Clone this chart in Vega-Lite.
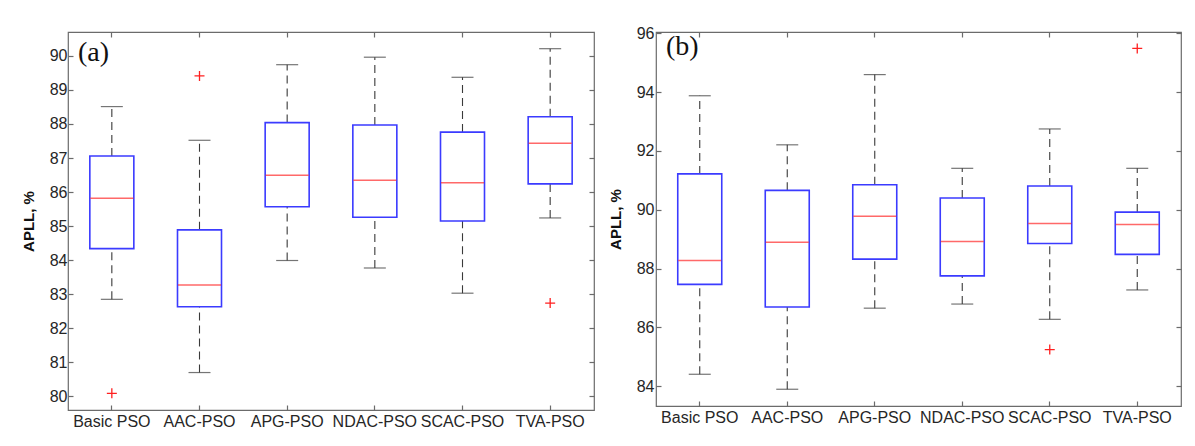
{
  "$schema": "https://vega.github.io/schema/vega-lite/v6.json",
  "background": "white",
  "padding": {"left": 20, "top": 24, "right": 5, "bottom": 5},
  "spacing": 11,
  "config": {
    "view": {"stroke": "#6b6b6b", "strokeWidth": 1.2},
    "axis": {
      "labelFont": "Liberation Sans", "labelFontSize": 16, "labelColor": "#262626",
      "titleFont": "Liberation Sans", "titleFontSize": 15, "titleColor": "#111111", "titleFontWeight": "bold",
      "domain": false, "grid": false, "tickColor": "#6b6b6b", "tickWidth": 1.2
    },
    "title": {"font": "Liberation Serif", "fontSize": 28, "fontWeight": "normal", "color": "#111111"}
  },
  "datasets": {
    "stats": [
      {"panel": "a", "method": "Basic PSO", "lower": 82.85, "q1": 84.34, "median": 85.82, "q3": 87.06, "upper": 88.51},
      {"panel": "a", "method": "AAC-PSO", "lower": 80.70, "q1": 82.63, "median": 83.27, "q3": 84.89, "upper": 87.52},
      {"panel": "a", "method": "APG-PSO", "lower": 83.99, "q1": 85.57, "median": 86.49, "q3": 88.04, "upper": 89.74},
      {"panel": "a", "method": "NDAC-PSO", "lower": 83.77, "q1": 85.26, "median": 86.35, "q3": 87.97, "upper": 89.96},
      {"panel": "a", "method": "SCAC-PSO", "lower": 83.03, "q1": 85.15, "median": 86.27, "q3": 87.76, "upper": 89.37},
      {"panel": "a", "method": "TVA-PSO", "lower": 85.24, "q1": 86.24, "median": 87.43, "q3": 88.21, "upper": 90.21},
      {"panel": "b", "method": "Basic PSO", "lower": 84.40, "q1": 87.46, "median": 88.27, "q3": 91.22, "upper": 93.88},
      {"panel": "b", "method": "AAC-PSO", "lower": 83.89, "q1": 86.69, "median": 88.89, "q3": 90.66, "upper": 92.21},
      {"panel": "b", "method": "APG-PSO", "lower": 86.65, "q1": 88.32, "median": 89.78, "q3": 90.85, "upper": 94.60},
      {"panel": "b", "method": "NDAC-PSO", "lower": 86.79, "q1": 87.75, "median": 88.92, "q3": 90.40, "upper": 91.41},
      {"panel": "b", "method": "SCAC-PSO", "lower": 86.27, "q1": 88.85, "median": 89.53, "q3": 90.81, "upper": 92.75},
      {"panel": "b", "method": "TVA-PSO", "lower": 87.27, "q1": 88.48, "median": 89.50, "q3": 89.92, "upper": 91.41}
    ],
    "outliers": [
      {"panel": "a", "method": "Basic PSO", "value": 80.09},
      {"panel": "a", "method": "AAC-PSO", "value": 89.41},
      {"panel": "a", "method": "TVA-PSO", "value": 82.74},
      {"panel": "b", "method": "SCAC-PSO", "value": 85.24},
      {"panel": "b", "method": "TVA-PSO", "value": 95.49}
    ]
  },
  "hconcat": [
    {
      "width": 526, "height": 378,
      "title": {"text": "(a)", "anchor": "start", "frame": "group", "offset": -36, "dx": 10},
      "data": {"name": "stats"},
      "transform": [{"filter": "datum.panel === 'a'"}],
      "resolve": {"axis": {"x": "independent", "y": "independent"}},
      "layer": [
        {
          "mark": {"type": "rule", "color": "#3a3a3a", "strokeDash": [8, 5], "strokeWidth": 1.1},
          "encoding": {
            "x": {"field": "method", "type": "nominal", "sort": ["Basic PSO", "AAC-PSO", "APG-PSO", "NDAC-PSO", "SCAC-PSO", "TVA-PSO"],
                  "scale": {"type": "band", "paddingInner": 0, "paddingOuter": 0},
                  "axis": {"title": null, "labelAngle": 0, "tickSize": -5, "labelPadding": 8, "orient": "bottom"}},
            "y": {"field": "lower", "type": "quantitative", "scale": {"domain": [79.6, 90.7], "nice": false, "zero": false},
                  "axis": {"title": "APLL, %", "values": [80, 81, 82, 83, 84, 85, 86, 87, 88, 89, 90], "tickSize": -5, "labelPadding": 6, "titlePadding": 13, "orient": "left"}},
            "y2": {"field": "q1"}
          }
        },
        {
          "mark": {"type": "rule", "color": "#3a3a3a", "strokeDash": [8, 5], "strokeWidth": 1.1},
          "encoding": {
            "x": {"field": "method", "type": "nominal", "sort": ["Basic PSO", "AAC-PSO", "APG-PSO", "NDAC-PSO", "SCAC-PSO", "TVA-PSO"],
                  "axis": {"title": null, "labels": false, "tickSize": -5, "orient": "top"}},
            "y": {"field": "q3", "type": "quantitative",
                  "axis": {"title": null, "labels": false, "values": [80, 81, 82, 83, 84, 85, 86, 87, 88, 89, 90], "tickSize": -5, "orient": "right"}},
            "y2": {"field": "upper"}
          }
        },
        {
          "mark": {"type": "tick", "color": "#3a3a3a", "size": 22, "thickness": 1.2},
          "encoding": {
            "x": {"field": "method", "type": "nominal", "sort": ["Basic PSO", "AAC-PSO", "APG-PSO", "NDAC-PSO", "SCAC-PSO", "TVA-PSO"], "axis": null},
            "y": {"field": "lower", "type": "quantitative", "axis": null}
          }
        },
        {
          "mark": {"type": "tick", "color": "#3a3a3a", "size": 22, "thickness": 1.2},
          "encoding": {
            "x": {"field": "method", "type": "nominal", "sort": ["Basic PSO", "AAC-PSO", "APG-PSO", "NDAC-PSO", "SCAC-PSO", "TVA-PSO"], "axis": null},
            "y": {"field": "upper", "type": "quantitative", "axis": null}
          }
        },
        {
          "mark": {"type": "bar", "size": 44, "fill": "white", "stroke": "#3b3bff", "strokeWidth": 1.6},
          "encoding": {
            "x": {"field": "method", "type": "nominal", "sort": ["Basic PSO", "AAC-PSO", "APG-PSO", "NDAC-PSO", "SCAC-PSO", "TVA-PSO"], "axis": null},
            "y": {"field": "q1", "type": "quantitative", "axis": null},
            "y2": {"field": "q3"}
          }
        },
        {
          "mark": {"type": "tick", "color": "#ff2a2a", "size": 43, "thickness": 1.5},
          "encoding": {
            "x": {"field": "method", "type": "nominal", "sort": ["Basic PSO", "AAC-PSO", "APG-PSO", "NDAC-PSO", "SCAC-PSO", "TVA-PSO"], "axis": null},
            "y": {"field": "median", "type": "quantitative", "axis": null}
          }
        },
        {
          "data": {"name": "outliers"},
          "transform": [{"filter": "datum.panel === 'a'"}],
          "mark": {"type": "point", "shape": "M-1,0L1,0M0,-1L0,1", "size": 100, "filled": false, "stroke": "#ff2020", "strokeWidth": 1.3, "opacity": 1},
          "encoding": {
            "x": {"field": "method", "type": "nominal", "sort": ["Basic PSO", "AAC-PSO", "APG-PSO", "NDAC-PSO", "SCAC-PSO", "TVA-PSO"], "axis": null},
            "y": {"field": "value", "type": "quantitative", "axis": null}
          }
        }
      ]
    },
    {
      "width": 525, "height": 374,
      "title": {"text": "(b)", "anchor": "start", "frame": "group", "offset": -36, "dx": 10},
      "data": {"name": "stats"},
      "transform": [{"filter": "datum.panel === 'b'"}],
      "resolve": {"axis": {"x": "independent", "y": "independent"}},
      "layer": [
        {
          "mark": {"type": "rule", "color": "#3a3a3a", "strokeDash": [8, 5], "strokeWidth": 1.1},
          "encoding": {
            "x": {"field": "method", "type": "nominal", "sort": ["Basic PSO", "AAC-PSO", "APG-PSO", "NDAC-PSO", "SCAC-PSO", "TVA-PSO"],
                  "scale": {"type": "band", "paddingInner": 0, "paddingOuter": 0},
                  "axis": {"title": null, "labelAngle": 0, "tickSize": -5, "labelPadding": 8, "orient": "bottom"}},
            "y": {"field": "lower", "type": "quantitative", "scale": {"domain": [83.32, 96.05], "nice": false, "zero": false},
                  "axis": {"title": "APLL, %", "values": [84, 86, 88, 90, 92, 94, 96], "tickSize": -5, "labelPadding": 7, "titlePadding": 13, "orient": "left"}},
            "y2": {"field": "q1"}
          }
        },
        {
          "mark": {"type": "rule", "color": "#3a3a3a", "strokeDash": [8, 5], "strokeWidth": 1.1},
          "encoding": {
            "x": {"field": "method", "type": "nominal", "sort": ["Basic PSO", "AAC-PSO", "APG-PSO", "NDAC-PSO", "SCAC-PSO", "TVA-PSO"],
                  "axis": {"title": null, "labels": false, "tickSize": -5, "orient": "top"}},
            "y": {"field": "q3", "type": "quantitative",
                  "axis": {"title": null, "labels": false, "values": [84, 86, 88, 90, 92, 94, 96], "tickSize": -5, "orient": "right"}},
            "y2": {"field": "upper"}
          }
        },
        {
          "mark": {"type": "tick", "color": "#3a3a3a", "size": 22, "thickness": 1.2},
          "encoding": {
            "x": {"field": "method", "type": "nominal", "sort": ["Basic PSO", "AAC-PSO", "APG-PSO", "NDAC-PSO", "SCAC-PSO", "TVA-PSO"], "axis": null},
            "y": {"field": "lower", "type": "quantitative", "axis": null}
          }
        },
        {
          "mark": {"type": "tick", "color": "#3a3a3a", "size": 22, "thickness": 1.2},
          "encoding": {
            "x": {"field": "method", "type": "nominal", "sort": ["Basic PSO", "AAC-PSO", "APG-PSO", "NDAC-PSO", "SCAC-PSO", "TVA-PSO"], "axis": null},
            "y": {"field": "upper", "type": "quantitative", "axis": null}
          }
        },
        {
          "mark": {"type": "bar", "size": 44, "fill": "white", "stroke": "#3b3bff", "strokeWidth": 1.6},
          "encoding": {
            "x": {"field": "method", "type": "nominal", "sort": ["Basic PSO", "AAC-PSO", "APG-PSO", "NDAC-PSO", "SCAC-PSO", "TVA-PSO"], "axis": null},
            "y": {"field": "q1", "type": "quantitative", "axis": null},
            "y2": {"field": "q3"}
          }
        },
        {
          "mark": {"type": "tick", "color": "#ff2a2a", "size": 43, "thickness": 1.5},
          "encoding": {
            "x": {"field": "method", "type": "nominal", "sort": ["Basic PSO", "AAC-PSO", "APG-PSO", "NDAC-PSO", "SCAC-PSO", "TVA-PSO"], "axis": null},
            "y": {"field": "median", "type": "quantitative", "axis": null}
          }
        },
        {
          "data": {"name": "outliers"},
          "transform": [{"filter": "datum.panel === 'b'"}],
          "mark": {"type": "point", "shape": "M-1,0L1,0M0,-1L0,1", "size": 100, "filled": false, "stroke": "#ff2020", "strokeWidth": 1.3, "opacity": 1},
          "encoding": {
            "x": {"field": "method", "type": "nominal", "sort": ["Basic PSO", "AAC-PSO", "APG-PSO", "NDAC-PSO", "SCAC-PSO", "TVA-PSO"], "axis": null},
            "y": {"field": "value", "type": "quantitative", "axis": null}
          }
        }
      ]
    }
  ]
}
